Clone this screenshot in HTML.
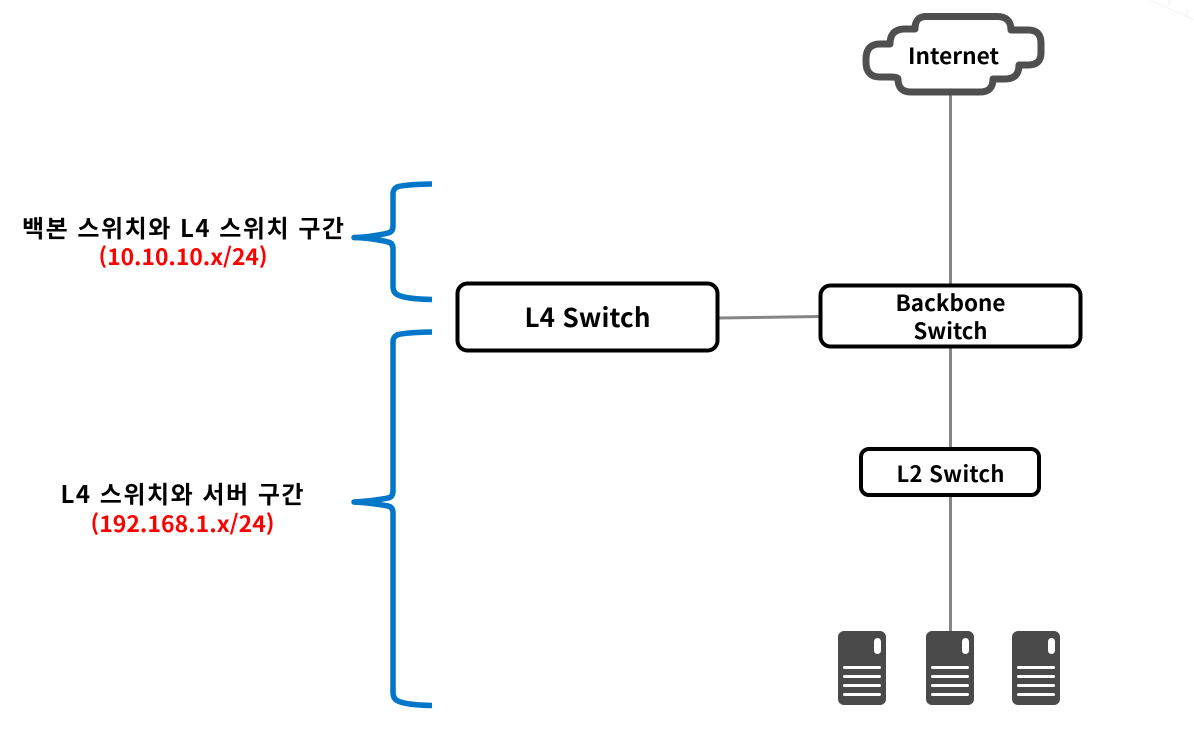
<!DOCTYPE html>
<html lang="ko">
<head>
<meta charset="utf-8">
<title>Network diagram</title>
<style>
html,body{margin:0;padding:0;background:#fff;width:1194px;height:737px;overflow:hidden}
svg{display:block}
text{font-family:"Noto Sans CJK KR","Liberation Sans",sans-serif;font-weight:700;text-anchor:middle}
.k{fill:#000}
.r{fill:#f00}
</style>
</head>
<body>
<svg width="1194" height="737" viewBox="0 0 1194 737" xmlns="http://www.w3.org/2000/svg">
<g stroke="#f6f6f6" stroke-width="1.5" fill="none">
<path d="M1150 0L1194 20M1170 0L1168 6M1188 10L1186 16"/>
</g>

<!-- connectors -->
<g stroke="#868686" stroke-width="3" fill="none">
<path d="M950.500 92V285"/>
<path d="M718 318L820 316.500"/>
<path d="M950.500 347V449"/>
<path d="M950.500 495V632"/>
</g>

<!-- cloud -->
<path d="M926 16.500H997Q1011 16.500 1011 30H1028Q1041 30 1041 43V53Q1041 65 1028 65H1019Q1019 79 1005 79H993Q993 92 980 92H911Q898 92 898 79Q898 77 890 77H880Q866 77 866 62V59Q866 44 880 44H890Q890 30 903 29H915Q915 16.500 926 16.500Z" fill="#fff" stroke="#4f4f4f" stroke-width="7" stroke-linejoin="round"/>
<text class="k" x="953.500" y="64" font-size="22" textLength="91" lengthAdjust="spacingAndGlyphs">Internet</text>

<!-- boxes -->
<rect x="457.500" y="283.500" width="260" height="67" rx="10" fill="#fff" stroke="#000" stroke-width="4"/>
<text class="k" x="587.500" y="327" font-size="26" textLength="126" lengthAdjust="spacing">L4 Switch</text>

<rect x="820.500" y="285.500" width="260" height="61" rx="10" fill="#fff" stroke="#000" stroke-width="4"/>
<text class="k" x="950.500" y="311" font-size="22" textLength="110" lengthAdjust="spacingAndGlyphs">Backbone</text>
<text class="k" x="950.500" y="339" font-size="22" textLength="74" lengthAdjust="spacingAndGlyphs">Switch</text>

<rect x="861" y="449" width="178" height="46" rx="8" fill="#fff" stroke="#000" stroke-width="4"/>
<text class="k" x="950.500" y="482" font-size="22" textLength="108" lengthAdjust="spacing">L2 Switch</text>

<!-- braces -->
<g fill="none" stroke="#0077c8" stroke-width="5.500" stroke-linecap="round">
<path d="M432 184Q404 184.500 397 187Q393 189 393 194V226Q393 232 388 233Q372 237 354 237.500Q372 238 388 242Q393 243 393 249V286Q393 293 398 295Q406 299 432 299.500" stroke-linecap="butt"/>
<path d="M354 237.500h1"/>
<path d="M432 332Q404 332.500 397 335Q393 337 393 342V491Q393 497 388 498Q372 501 354 502Q372 503 388 506Q393 507 393 513V692Q393 699 398 701Q406 705 432 705.500" stroke-linecap="butt"/>
<path d="M354 502h1"/>
</g>

<!-- labels -->
<text class="k" x="183" y="237" font-size="24" textLength="322" lengthAdjust="spacing">백본 스위치와 L4 스위치 구간</text>
<text class="r" x="183" y="265" font-size="22" textLength="169" lengthAdjust="spacingAndGlyphs">(10.10.10.x/24)</text>
<text class="k" x="182" y="503" font-size="24" textLength="243" lengthAdjust="spacing">L4 스위치와 서버 구간</text>
<text class="r" x="182.500" y="532" font-size="22" textLength="184" lengthAdjust="spacingAndGlyphs">(192.168.1.x/24)</text>

<!-- servers -->
<g transform="translate(838 631)">
<rect width="48" height="74" rx="6" fill="#4a4a4a"/>
<rect x="36" y="7" width="7" height="16" rx="3.500" fill="#fff"/>
<g fill="#fff"><rect x="5" y="35" width="38" height="3" rx="1.500"/><rect x="5" y="44" width="38" height="3" rx="1.500"/><rect x="5" y="53" width="38" height="3" rx="1.500"/><rect x="5" y="62" width="38" height="3" rx="1.500"/></g>
</g>
<g transform="translate(926 631)">
<rect width="48" height="74" rx="6" fill="#4a4a4a"/>
<rect x="36" y="7" width="7" height="16" rx="3.500" fill="#fff"/>
<g fill="#fff"><rect x="5" y="35" width="38" height="3" rx="1.500"/><rect x="5" y="44" width="38" height="3" rx="1.500"/><rect x="5" y="53" width="38" height="3" rx="1.500"/><rect x="5" y="62" width="38" height="3" rx="1.500"/></g>
</g>
<g transform="translate(1012 631)">
<rect width="48" height="74" rx="6" fill="#4a4a4a"/>
<rect x="36" y="7" width="7" height="16" rx="3.500" fill="#fff"/>
<g fill="#fff"><rect x="5" y="35" width="38" height="3" rx="1.500"/><rect x="5" y="44" width="38" height="3" rx="1.500"/><rect x="5" y="53" width="38" height="3" rx="1.500"/><rect x="5" y="62" width="38" height="3" rx="1.500"/></g>
</g>
</svg>
</body>
</html>
